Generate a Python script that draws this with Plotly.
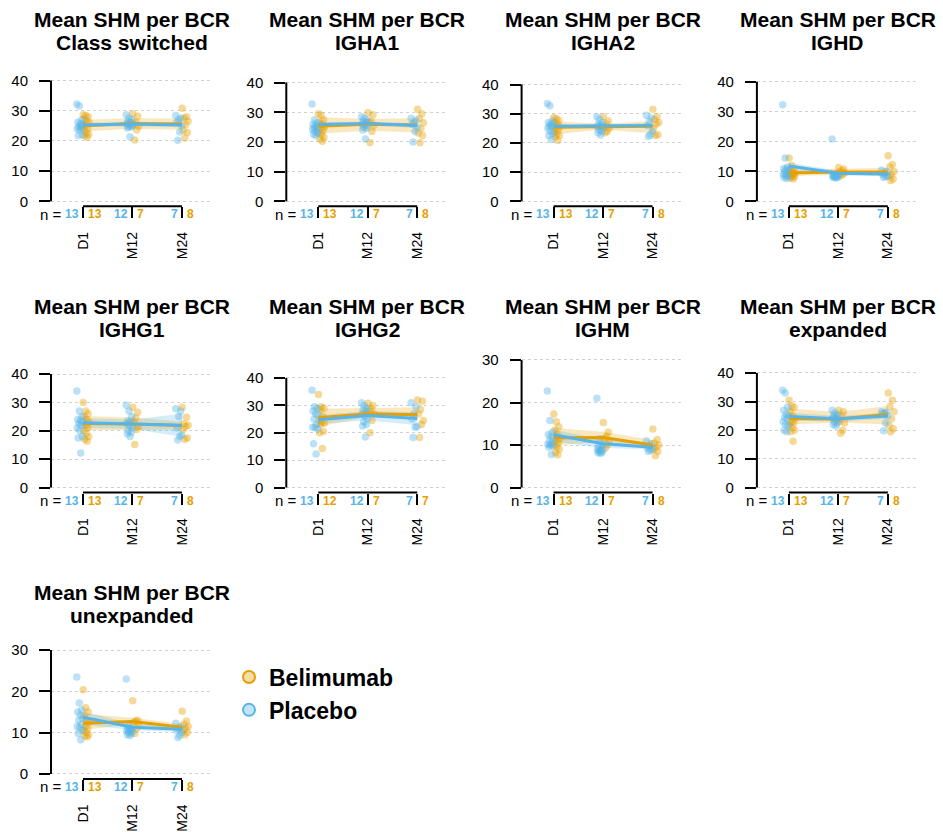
import numpy as np
import plotly.graph_objects as go

# ---------------------------------------------------------------- data
timepoints = ["D1", "M12", "M24"]
panel_names = ["Class switched", "IGHA1", "IGHA2", "IGHD",
               "IGHG1", "IGHG2", "IGHM", "expanded", "unexpanded"]
# upper y limit per panel
ymax = [41.3, 42.0, 42.7, 41.7, 43.9, 45.5, 29.3, 43.5, 30.2]

# per-subject mean SHM, one list per time point [D1, M12, M24]
cs_placebo = [[32.2, 31.6, 27.0, 26.2, 25.8, 25.3, 24.8, 24.3, 24.0, 23.5, 22.0, 21.8, 25.0],
              [28.7, 27.6, 27.0, 26.5, 26.0, 25.7, 25.4, 25.0, 24.8, 24.6, 24.3, 21.4],
              [28.4, 27.6, 27.0, 26.2, 25.0, 23.0, 20.2]]
cs_belimumab = [[28.7, 28.4, 28.0, 27.2, 26.8, 26.0, 25.0, 24.0, 23.5, 22.6, 22.2, 21.6, 21.2],
                [29.0, 28.2, 26.2, 25.5, 24.9, 23.6, 20.3],
                [30.8, 28.0, 27.5, 26.5, 25.4, 23.5, 22.8, 21.0]]

igha1_placebo = [[32.8, 27.5, 26.5, 26.0, 25.5, 25.0, 24.8, 24.5, 24.2, 23.5, 23.0, 22.5, 22.2],
                 [28.5, 28.0, 27.5, 27.0, 26.5, 26.0, 25.8, 25.5, 25.0, 24.5, 24.0, 21.0],
                 [28.0, 27.3, 26.5, 26.0, 25.0, 23.5, 20.0]]
igha1_belimumab = [[29.5, 29.0, 27.5, 26.5, 26.0, 25.0, 24.5, 23.8, 23.0, 22.5, 21.5, 21.0, 20.2],
                   [29.8, 29.2, 27.0, 26.5, 25.5, 23.5, 19.8],
                   [31.0, 29.5, 27.8, 26.5, 24.5, 23.0, 22.2, 19.7]]

igha2_placebo = [[33.5, 32.7, 27.5, 27.0, 26.5, 26.0, 25.8, 25.5, 25.0, 24.0, 23.2, 22.5, 21.2],
                 [29.0, 28.0, 27.0, 26.5, 26.0, 25.5, 25.5, 25.0, 24.5, 24.0, 23.5, 22.7],
                 [29.5, 28.5, 27.5, 26.0, 24.0, 22.8, 22.2]]
igha2_belimumab = [[28.7, 28.3, 27.8, 27.0, 26.5, 25.5, 25.0, 24.5, 23.8, 23.0, 22.5, 22.0, 20.8],
                   [29.0, 27.5, 26.5, 25.5, 25.0, 24.0, 23.5],
                   [31.5, 29.0, 28.0, 27.0, 26.5, 25.0, 22.8, 22.5]]

ighd_placebo = [[32.3, 14.5, 11.5, 11.0, 10.8, 10.5, 10.0, 9.5, 9.0, 8.7, 8.3, 8.0, 7.6],
                [20.8, 9.0, 8.8, 8.7, 8.6, 8.5, 8.5, 8.3, 8.2, 8.0, 8.0, 7.8],
                [10.5, 10.0, 9.5, 9.0, 8.5, 8.3, 8.0]]
ighd_belimumab = [[14.5, 12.0, 11.0, 10.5, 10.0, 9.5, 9.2, 9.0, 8.8, 8.5, 8.2, 7.8, 7.5],
                  [11.3, 10.8, 10.3, 9.8, 9.5, 9.0, 8.5],
                  [15.2, 12.3, 11.5, 10.0, 9.0, 8.5, 7.5, 7.0]]

ighg1_placebo = [[34.0, 27.0, 25.0, 24.0, 23.5, 23.0, 22.5, 22.0, 21.0, 20.0, 18.0, 17.5, 12.2],
                 [29.0, 27.0, 25.0, 23.5, 23.0, 22.5, 22.0, 21.0, 20.0, 19.5, 19.0, 18.0],
                 [27.8, 27.0, 25.0, 21.0, 18.5, 18.0, 16.8]]
ighg1_belimumab = [[30.0, 27.0, 26.0, 25.0, 24.0, 23.0, 22.0, 21.0, 20.0, 19.0, 18.0, 17.0, 16.3],
                   [28.3, 26.5, 24.5, 23.0, 21.5, 20.5, 15.2],
                   [28.3, 24.8, 22.5, 22.0, 21.5, 20.5, 17.5, 17.0]]

ighg2_placebo = [[35.5, 29.5, 29.0, 28.0, 27.0, 26.5, 25.0, 23.0, 22.0, 22.0, 21.5, 16.0, 12.3],
                 [31.0, 30.0, 29.0, 28.5, 27.5, 27.0, 26.0, 25.0, 24.0, 23.0, 22.5, 18.5],
                 [31.0, 29.5, 27.0, 25.0, 22.2, 22.0, 18.3]]
ighg2_belimumab = [[34.0, 29.5, 29.0, 28.5, 26.0, 24.5, 24.0, 23.5, 23.0, 20.5, 20.0, 14.3],
                   [30.8, 30.0, 29.0, 28.0, 27.0, 24.5, 20.0],
                   [32.0, 31.5, 28.5, 27.0, 24.5, 23.0, 18.3]]

ighm_placebo = [[22.7, 15.8, 13.0, 12.5, 12.0, 11.5, 11.0, 10.5, 10.2, 10.0, 9.8, 9.5, 7.8],
                [21.0, 11.5, 10.0, 9.5, 9.3, 9.0, 8.8, 8.7, 8.5, 8.3, 8.2, 8.0],
                [11.0, 10.3, 9.8, 9.3, 9.0, 8.8, 8.5]]
ighm_belimumab = [[17.3, 15.5, 14.3, 13.5, 12.5, 11.5, 11.0, 10.5, 10.0, 9.5, 9.0, 8.2, 7.7],
                  [15.3, 13.0, 12.0, 11.5, 11.0, 10.0, 9.3],
                  [13.8, 11.3, 10.5, 10.0, 9.5, 9.0, 8.5, 7.5]]

exp_placebo = [[34.0, 33.0, 28.0, 27.0, 25.5, 25.0, 24.5, 24.0, 23.0, 22.0, 21.5, 20.0, 19.5],
               [27.0, 26.0, 25.5, 25.0, 24.5, 24.2, 24.0, 23.5, 23.0, 22.5, 22.0, 21.5],
               [26.5, 26.3, 26.0, 25.8, 25.0, 22.5, 19.8]]
exp_belimumab = [[30.5, 28.5, 28.0, 26.5, 25.0, 24.0, 23.0, 22.5, 22.0, 21.0, 20.0, 19.5, 16.2],
                 [27.0, 26.5, 25.0, 23.0, 22.5, 20.0, 19.0],
                 [33.0, 30.5, 28.3, 26.5, 24.0, 21.8, 20.5, 19.5]]

unexp_placebo = [[23.5, 17.2, 15.5, 15.0, 14.2, 13.5, 13.0, 12.0, 11.5, 11.2, 10.5, 9.8, 8.3],
                 [23.0, 11.5, 11.0, 11.0, 10.8, 10.5, 10.5, 10.3, 10.0, 9.8, 9.5, 9.3],
                 [12.3, 11.5, 11.0, 10.5, 10.0, 9.3, 8.8]]
unexp_belimumab = [[20.4, 16.0, 15.0, 14.0, 13.0, 12.5, 11.5, 11.0, 10.5, 10.0, 9.5, 9.2, 9.0],
                   [17.7, 13.0, 12.8, 12.5, 12.0, 11.0, 9.8],
                   [15.2, 12.8, 12.0, 11.5, 11.0, 10.5, 10.0, 9.5]]

placebo_points = [cs_placebo, igha1_placebo, igha2_placebo, ighd_placebo, ighg1_placebo,
                  ighg2_placebo, ighm_placebo, exp_placebo, unexp_placebo]
belimumab_points = [cs_belimumab, igha1_belimumab, igha2_belimumab, ighd_belimumab, ighg1_belimumab,
                    ighg2_belimumab, ighm_belimumab, exp_belimumab, unexp_belimumab]

# fitted group means and 95% confidence band, per panel [D1, M12, M24]
fit_placebo = [[25.3, 25.6, 25.3], [25.9, 26.2, 25.5], [25.7, 25.8, 26.0],
               [11.8, 9.4, 9.1], [22.8, 22.3, 22.0], [24.8, 26.3, 25.2],
               [12.4, 10.3, 9.5], [24.8, 24.0, 25.0], [13.7, 11.3, 10.8]]
lo_placebo = [[24.6, 24.9, 24.5], [25.2, 25.5, 24.7], [25.0, 25.2, 25.3],
              [10.6, 8.7, 8.5], [21.0, 20.6, 17.9], [23.2, 24.6, 22.8],
              [10.8, 9.3, 9.0], [23.4, 23.1, 24.0], [12.0, 10.6, 10.2]]
hi_placebo = [[26.0, 26.3, 26.1], [26.6, 26.9, 26.3], [26.4, 26.4, 26.7],
              [13.0, 10.2, 9.8], [24.4, 24.0, 26.0], [26.4, 28.0, 27.5],
              [13.6, 11.3, 10.1], [26.1, 25.0, 26.1], [15.2, 12.1, 11.5]]
fit_belimumab = [[25.0, 25.8, 25.6], [25.3, 26.0, 25.7], [25.4, 25.6, 25.7],
                 [9.5, 9.8, 9.8], [22.6, 22.4, 21.9], [25.5, 27.0, 26.6],
                 [11.7, 11.8, 10.0], [24.1, 23.9, 25.6], [12.3, 12.7, 11.3]]
lo_belimumab = [[23.1, 24.0, 23.7], [22.8, 23.8, 23.2], [22.9, 24.6, 23.2],
                [8.5, 8.8, 8.5], [20.3, 20.3, 20.5], [22.2, 25.8, 25.0],
                [9.9, 10.7, 9.1], [22.0, 22.7, 22.0], [10.7, 11.9, 10.6]]
hi_belimumab = [[27.0, 27.5, 27.4], [28.3, 27.8, 28.0], [27.4, 26.6, 27.5],
                [10.5, 10.8, 11.2], [25.2, 24.7, 23.3], [28.8, 29.0, 29.3],
                [14.0, 13.1, 11.2], [27.6, 26.4, 28.5], [14.6, 13.6, 12.1]]

# ---------------------------------------------------------------- style
FONT = "Liberation Sans, Arial, Helvetica, sans-serif"
BLUE = "#56B4E9"
ORANGE = "#E69F00"
BLUE_PT = "rgba(86,180,233,0.40)"
ORANGE_PT = "rgba(230,159,0,0.40)"
BLUE_BAND = "rgba(86,180,233,0.25)"
ORANGE_BAND = "rgba(230,159,0,0.25)"

W, H = 943, 832
COL_STEP = 235.3
PANEL_LEFT, PANEL_RIGHT = 51, 213
ROW_BOTTOM = [207, 494, 781]
PANEL_H = 135
XRANGE = [0.354, 3.627]
GROUP_SHIFT = 0.065
JITTER = 0.06


def vpaper(p):
    """Vertical page position in pixels -> paper coordinate (with page offset)."""
    return 1 - ((p - 7.2) / 0.988) / H


def spread(n):
    """Deterministic horizontal spread of n points around a group centre."""
    if n == 1:
        return np.zeros(1)
    order = (np.arange(n) * 5) % n
    return (order / (n - 1) - 0.5) * 2 * JITTER


fig = go.Figure()
layout = dict(width=W, height=H, margin=dict(l=0, r=0, t=0, b=0),
              paper_bgcolor="white", plot_bgcolor="white",
              font=dict(family=FONT, color="black"), showlegend=True)
annotations = []
shapes = []

for i, name in enumerate(panel_names):
    k = i + 1
    row, col = divmod(i, 4)
    suffix = "" if k == 1 else str(k)
    xa, ya = "x" + suffix, "y" + suffix
    x0 = PANEL_LEFT + col * COL_STEP
    x1 = PANEL_RIGHT + col * COL_STEP
    yb = ROW_BOTTOM[row]
    yt = yb - PANEL_H
    m = ymax[i]
    top_tick = int(np.floor(1.04 * m / 10) * 10)

    layout["xaxis" + suffix] = dict(
        domain=[x0 / W, x1 / W], anchor=ya, range=XRANGE,
        tickvals=[1, 2, 3], ticktext=timepoints, tickangle=-90,
        ticks="outside", ticklen=11, tickwidth=2, tickcolor="black",
        ticklabelstandoff=8, tickfont=dict(size=14, family=FONT),
        showgrid=False, zeroline=False, showline=False, fixedrange=True)
    layout["yaxis" + suffix] = dict(
        domain=[vpaper(yb), vpaper(yt)], anchor=xa, range=[-0.04 * m, 1.04 * m],
        tickvals=list(range(0, top_tick + 1, 10)),
        ticks="outside", ticklen=11, tickwidth=2, tickcolor="black",
        ticklabelstandoff=8, tickfont=dict(size=15, family=FONT),
        showgrid=True, gridcolor="#d2d2d2", griddash="dot", gridwidth=1,
        zeroline=False, showline=False, fixedrange=True)

    # y axis line runs from 0 to the last tick, x axis bracket from D1 to M24
    shapes.append(dict(type="line", xref=f"{xa} domain", yref=ya, x0=0, x1=0,
                       y0=0, y1=top_tick, line=dict(color="black", width=2)))
    shapes.append(dict(type="line", xref=xa, yref=f"{ya} domain", x0=1, x1=3,
                       y0=0, y1=0, line=dict(color="black", width=2)))

    xs = np.arange(1, 4)
    groups = [
        (belimumab_points[i], fit_belimumab[i], lo_belimumab[i], hi_belimumab[i],
         ORANGE, ORANGE_PT, ORANGE_BAND, +GROUP_SHIFT),
        (placebo_points[i], fit_placebo[i], lo_placebo[i], hi_placebo[i],
         BLUE, BLUE_PT, BLUE_BAND, -GROUP_SHIFT),
    ]
    # confidence bands
    for pts, fit, lo, hi, c, cpt, cband, sh in groups:
        fig.add_trace(go.Scatter(
            x=list(xs) + list(xs[::-1]), y=list(hi) + list(lo[::-1]),
            fill="toself", fillcolor=cband, line=dict(width=0),
            mode="lines", hoverinfo="skip", showlegend=False, xaxis=xa, yaxis=ya))
    # individual subjects
    for pts, fit, lo, hi, c, cpt, cband, sh in groups:
        px, py = [], []
        for t, vals in enumerate(pts):
            px.extend(list(t + 1 + sh + spread(len(vals))))
            py.extend(vals)
        fig.add_trace(go.Scatter(
            x=px, y=py, mode="markers",
            marker=dict(size=7.5, color=cpt, line=dict(width=0)),
            showlegend=False, xaxis=xa, yaxis=ya))
    # fitted means
    for pts, fit, lo, hi, c, cpt, cband, sh in groups:
        fig.add_trace(go.Scatter(
            x=xs, y=fit, mode="lines", line=dict(color=c, width=3),
            showlegend=False, xaxis=xa, yaxis=ya))

    # panel title (two lines)
    cx = (x0 + x1) / 2 / W
    for line_txt, dy in (("Mean SHM per BCR", 52), (name, 29)):
        annotations.append(dict(
            text=line_txt, xref="paper", yref="paper", x=cx, y=vpaper(yt - dy),
            xanchor="center", yanchor="middle", showarrow=False,
            font=dict(size=21, family=FONT, weight="bold", color="black")))

    # group sizes under the axis
    annotations.append(dict(
        text="n =", xref=f"{xa} domain", yref=f"{ya} domain", x=0, y=0,
        xanchor="right", yanchor="middle", xshift=13, yshift=-8, showarrow=False,
        font=dict(size=15, family=FONT, color="black")))
    for t in range(3):
        annotations.append(dict(
            text=str(len(placebo_points[i][t])), xref=xa, yref=f"{ya} domain",
            x=t + 1, y=0, xanchor="right", yanchor="middle", xshift=-2, yshift=-8,
            showarrow=False, font=dict(size=12, family=FONT, weight="bold", color=BLUE)))
        annotations.append(dict(
            text=str(len(belimumab_points[i][t])), xref=xa, yref=f"{ya} domain",
            x=t + 1, y=0, xanchor="left", yanchor="middle", xshift=3, yshift=-8,
            showarrow=False, font=dict(size=12, family=FONT, weight="bold", color=ORANGE)))

# legend entries
for label, c, cpt in (("Belimumab", ORANGE, "rgba(230,159,0,0.35)"),
                      ("Placebo", BLUE, "rgba(86,180,233,0.35)")):
    fig.add_trace(go.Scatter(
        x=[None], y=[None], mode="markers", name=label,
        marker=dict(size=13, color=cpt, line=dict(color=c, width=2.5)),
        xaxis="x", yaxis="y"))

layout["legend"] = dict(
    x=229 / W, y=1 - 658 / H, xanchor="left", yanchor="top",
    bgcolor="rgba(0,0,0,0)", itemsizing="constant", tracegroupgap=0,
    itemwidth=30,
    font=dict(size=23, family=FONT, weight="bold", color="black"))
layout["annotations"] = annotations
layout["shapes"] = shapes
fig.update_layout(**layout)

fig.write_html("out.html")
